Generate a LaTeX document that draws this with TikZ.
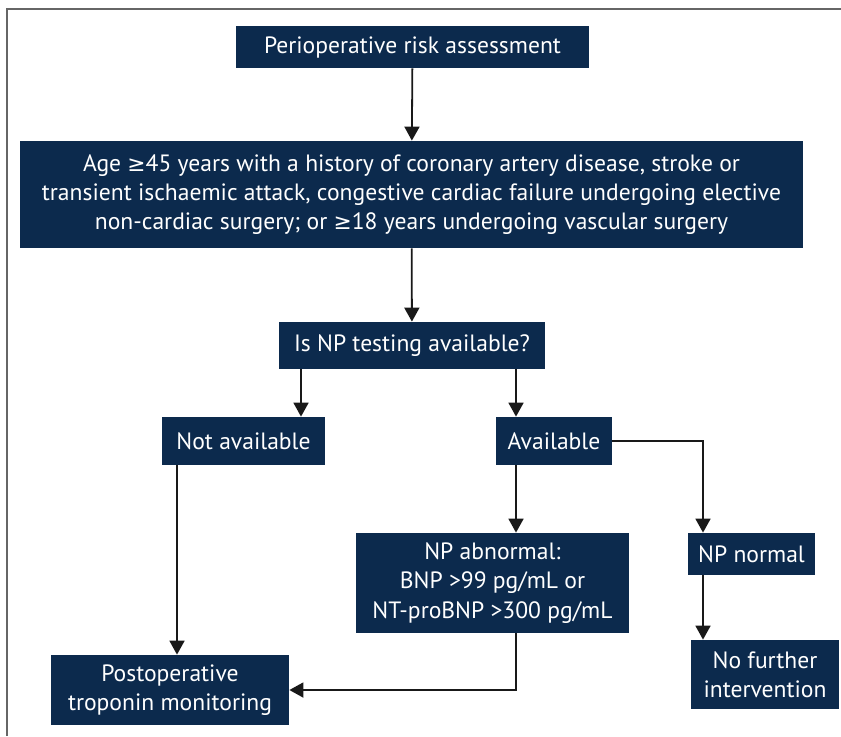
\documentclass[tikz,border=0pt]{standalone}
\usepackage{fontspec}
\setmainfont{PT Sans}
\newfontfamily\symfont[Scale=0.92]{DejaVu Sans}
\newcommand{\gesign}{{\symfont ≥}}
\usetikzlibrary{arrows.meta}
\definecolor{navy}{HTML}{0C2A4D}

\begin{document}
\begin{tikzpicture}[x=0.5pt,y=-0.5pt,
    box/.style={fill=navy, text=white, align=center, inner sep=0pt,
      font=\fontsize{11.8}{14.6}\selectfont},
    arr/.style={-{Triangle[width=7.5pt,length=7pt]}, line width=0.9pt, draw=black!90}]
  \useasboundingbox (0,0) rectangle (841,736);

  % frame
  \draw[line width=1pt, gray!80!black] (7,736) -- (7,9) -- (841,9);

  \node[box, minimum width=176.5pt, minimum height=21pt] (risk) at (412.5,47) {Perioperative risk assessment};
  \node[box, minimum width=391.5pt, minimum height=53.5pt] (crit) at (411.5,194.5)
    {Age \gesign45 years with a history of coronary artery disease, stroke or\\
     transient ischaemic attack, congestive cardiac failure undergoing elective\\
     non-cardiac surgery; or \gesign18 years undergoing vascular surgery};
  \node[box, minimum width=133pt, minimum height=23.5pt] (test) at (412,345.5) {Is NP testing available?};
  \node[box, minimum width=81.5pt, minimum height=24pt] (notav) at (243.5,441) {Not available};
  \node[box, minimum width=58pt, minimum height=24pt] (avail) at (554,441) {Available};
  \node[box, minimum width=136.5pt, minimum height=50pt] (abn) at (492.5,583)
    {NP abnormal:\\ BNP >99 pg/mL or\\ NT-proBNP >300 pg/mL};
  \node[box, minimum width=63.5pt, minimum height=21pt] (norm) at (751.5,554) {NP normal};
  \node[box, minimum width=119pt, minimum height=35pt] (post) at (170,690) {Postoperative\\ troponin monitoring};
  \node[box, minimum width=74pt, minimum height=34.5pt] (nofur) at (765,674.5) {No further\\ intervention};

  \coordinate (lx) at (301,0);
  \coordinate (rx) at (516,0);
  \coordinate (nx) at (177,0);
  \coordinate (mx) at (703,0);

  \draw[arr] (risk) -- (crit);
  \draw[arr] (crit) -- (test);
  \draw[arr] (test.south -| lx) -- (notav.north -| lx);
  \draw[arr] (test.south -| rx) -- (avail.north -| rx);
  \draw[arr] (avail.south -| rx) -- (abn.north -| rx);
  \draw[arr] (avail.east) -| (norm.north -| mx);
  \draw[arr] (norm.south -| mx) -- (nofur.north -| mx);
  \draw[arr] (notav.south -| nx) -- (post.north -| nx);
  \draw[arr] (abn.south -| rx) |- (post.east);
\end{tikzpicture}
\end{document}
